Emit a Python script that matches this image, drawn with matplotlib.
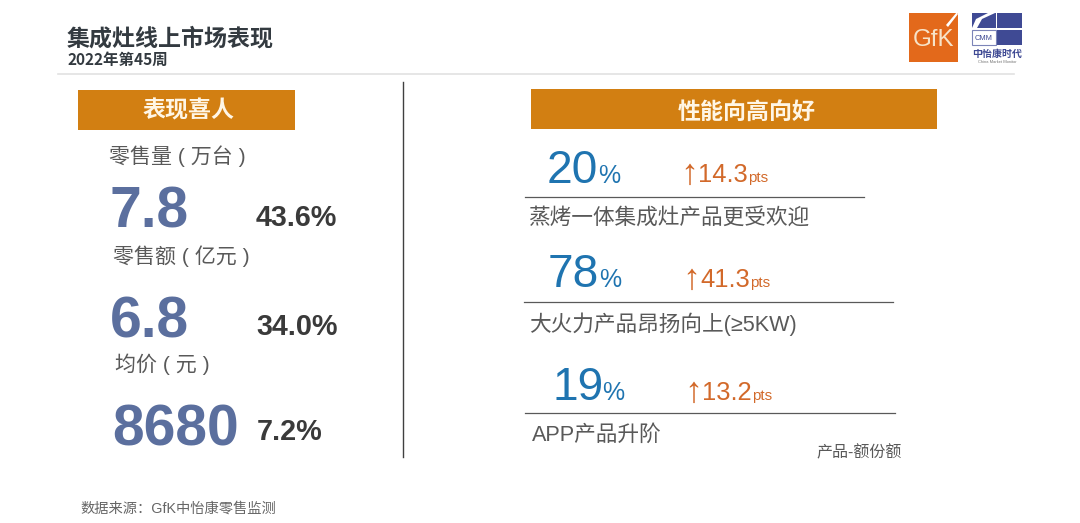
import matplotlib
matplotlib.use('Agg')
import matplotlib.pyplot as plt
from matplotlib.patches import Rectangle, Polygon

SANS = ['Liberation Sans', 'Noto Sans CJK SC', 'DejaVu Sans']
plt.rcParams['font.family'] = ['Noto Sans CJK SC', 'DejaVu Sans']

# 左侧指标
left_labels = ['零售量 ( 万台 )', '零售额 ( 亿元 )', '均价 ( 元 )']
left_values = ['7.8', '6.8', '8680']
left_growth = ['43.6%', '34.0%', '7.2%']
# 右侧指标
right_labels = ['蒸烤一体集成灶产品更受欢迎', '大火力产品昂扬向上(≥5KW)', 'APP产品升阶']
right_shares = ['20', '78', '19']
right_pts = ['14.3', '41.3', '13.2']

ORANGE = '#D27F12'
BLUE_GREY = '#5B6F9E'
BLUE = '#1F74B0'
RUST = '#D2692A'
DARK = '#3A3A3A'
GREY = '#595959'

fig = plt.figure(figsize=(10.8, 5.23), dpi=100)
ax = fig.add_axes([0, 0, 1, 1])
ax.set_xlim(0, 1080)
ax.set_ylim(523, 0)
ax.axis('off')


def txt(x, y, s, size, color=DARK, weight='normal', ha='left', family=None):
    # size 按像素给，这里换算成 pt
    return ax.text(x, y, s, fontsize=size * 0.72, color=color, fontweight=weight,
                   ha=ha, va='center', family=family or plt.rcParams['font.family'])


# 标题
txt(67, 39, '集成灶线上市场表现', 23, '#333A40', 'bold')
txt(67, 60, '2022年第45周', 15.5, '#333A40', 'bold')
ax.plot([58, 1014], [74, 74], color='#E2E2E2', lw=1.2)

# logo
ax.add_patch(Rectangle((909, 13), 49, 49, color='#E3691B', lw=0))
ax.add_patch(Polygon([[946, 25], [957, 12], [958, 14], [948, 27]], color='white', lw=0))
txt(933, 40, 'GfK', 24, '#F7E3C8', ha='center', family=SANS)
ax.add_patch(Rectangle((972, 13), 24, 15, color='#3F4A94', lw=0))
ax.add_patch(Rectangle((997, 13), 25, 15, color='#3F4A94', lw=0))
ax.add_patch(Rectangle((997, 30), 25, 15, color='#3F4A94', lw=0))
ax.add_patch(Polygon([[972, 28], [976, 19], [988, 13], [995, 13], [982, 19], [977, 28]],
                     color='white', lw=0))
ax.add_patch(Rectangle((972, 30), 24, 15, facecolor='white', edgecolor='#7C84B8', lw=0.8))
txt(984, 38, 'CMM', 7.5, '#3F4A94', ha='center', family=SANS)
txt(997, 54, '中怡康时代', 10, '#3F4A94', 'bold', ha='center')
txt(997, 62, 'China Market Monitor', 4, '#777777', ha='center', family=SANS)

# 橙色标题栏
ax.add_patch(Rectangle((78, 90), 217, 40, color=ORANGE, lw=0))
txt(189, 111, '表现喜人', 23, '#FFF6E6', 'bold', ha='center')
ax.add_patch(Rectangle((531, 89), 406, 40, color=ORANGE, lw=0))
txt(747, 112, '性能向高向好', 23, '#FFF6E6', 'bold', ha='center')

# 中间分隔线
ax.plot([403, 403], [82, 457], color='#404040', lw=1)

# 左列
label_pos = [(109, 156), (113, 256), (115, 364)]
value_pos = [(109, 213), (110, 323), (112, 431)]
growth_pos = [(256, 218), (256, 327), (257, 432)]
for i in range(3):
    txt(*label_pos[i], left_labels[i], 21, GREY, family=SANS)
    txt(*value_pos[i], left_values[i], 57, BLUE_GREY, 'bold', family=SANS)
    txt(*growth_pos[i], left_growth[i], 28.7, DARK, 'bold', family=SANS)

# 右列
share_pos = [(547, 171), (548, 275), (552, 388)]
pct_x = [598, 599, 602]
pts_pos = [(684, 175), (686, 280), (688, 393)]
rule_pos = [(525, 864, 197), (524, 893, 302), (525, 895, 413)]
text_pos = [(528, 218), (529, 324), (532, 435)]
for i in range(3):
    txt(*share_pos[i], right_shares[i], 46, BLUE, family=SANS)
    txt(pct_x[i], share_pos[i][1] + 5, '%', 25, BLUE, family=SANS)
    txt(pts_pos[i][0] + 5.5, pts_pos[i][1] - 1, '↑', 36, RUST, ha='center', family=SANS)
    txt(pts_pos[i][0] + 14, pts_pos[i][1], right_pts[i], 25.5, RUST, family=SANS)
    txt(pts_pos[i][0] + 64, pts_pos[i][1] + 3, 'pts', 15, RUST, family=SANS)
    ax.plot(rule_pos[i][:2], [rule_pos[i][2]] * 2, color='#595959', lw=0.9)
    txt(*text_pos[i], right_labels[i], 21.7, GREY, family=SANS)

txt(816, 453, '产品-额份额', 16, GREY, family=SANS)
txt(80, 509, '数据来源：GfK中怡康零售监测', 14.3, '#666666', family=SANS)

fig.savefig('out.png', dpi=100)
